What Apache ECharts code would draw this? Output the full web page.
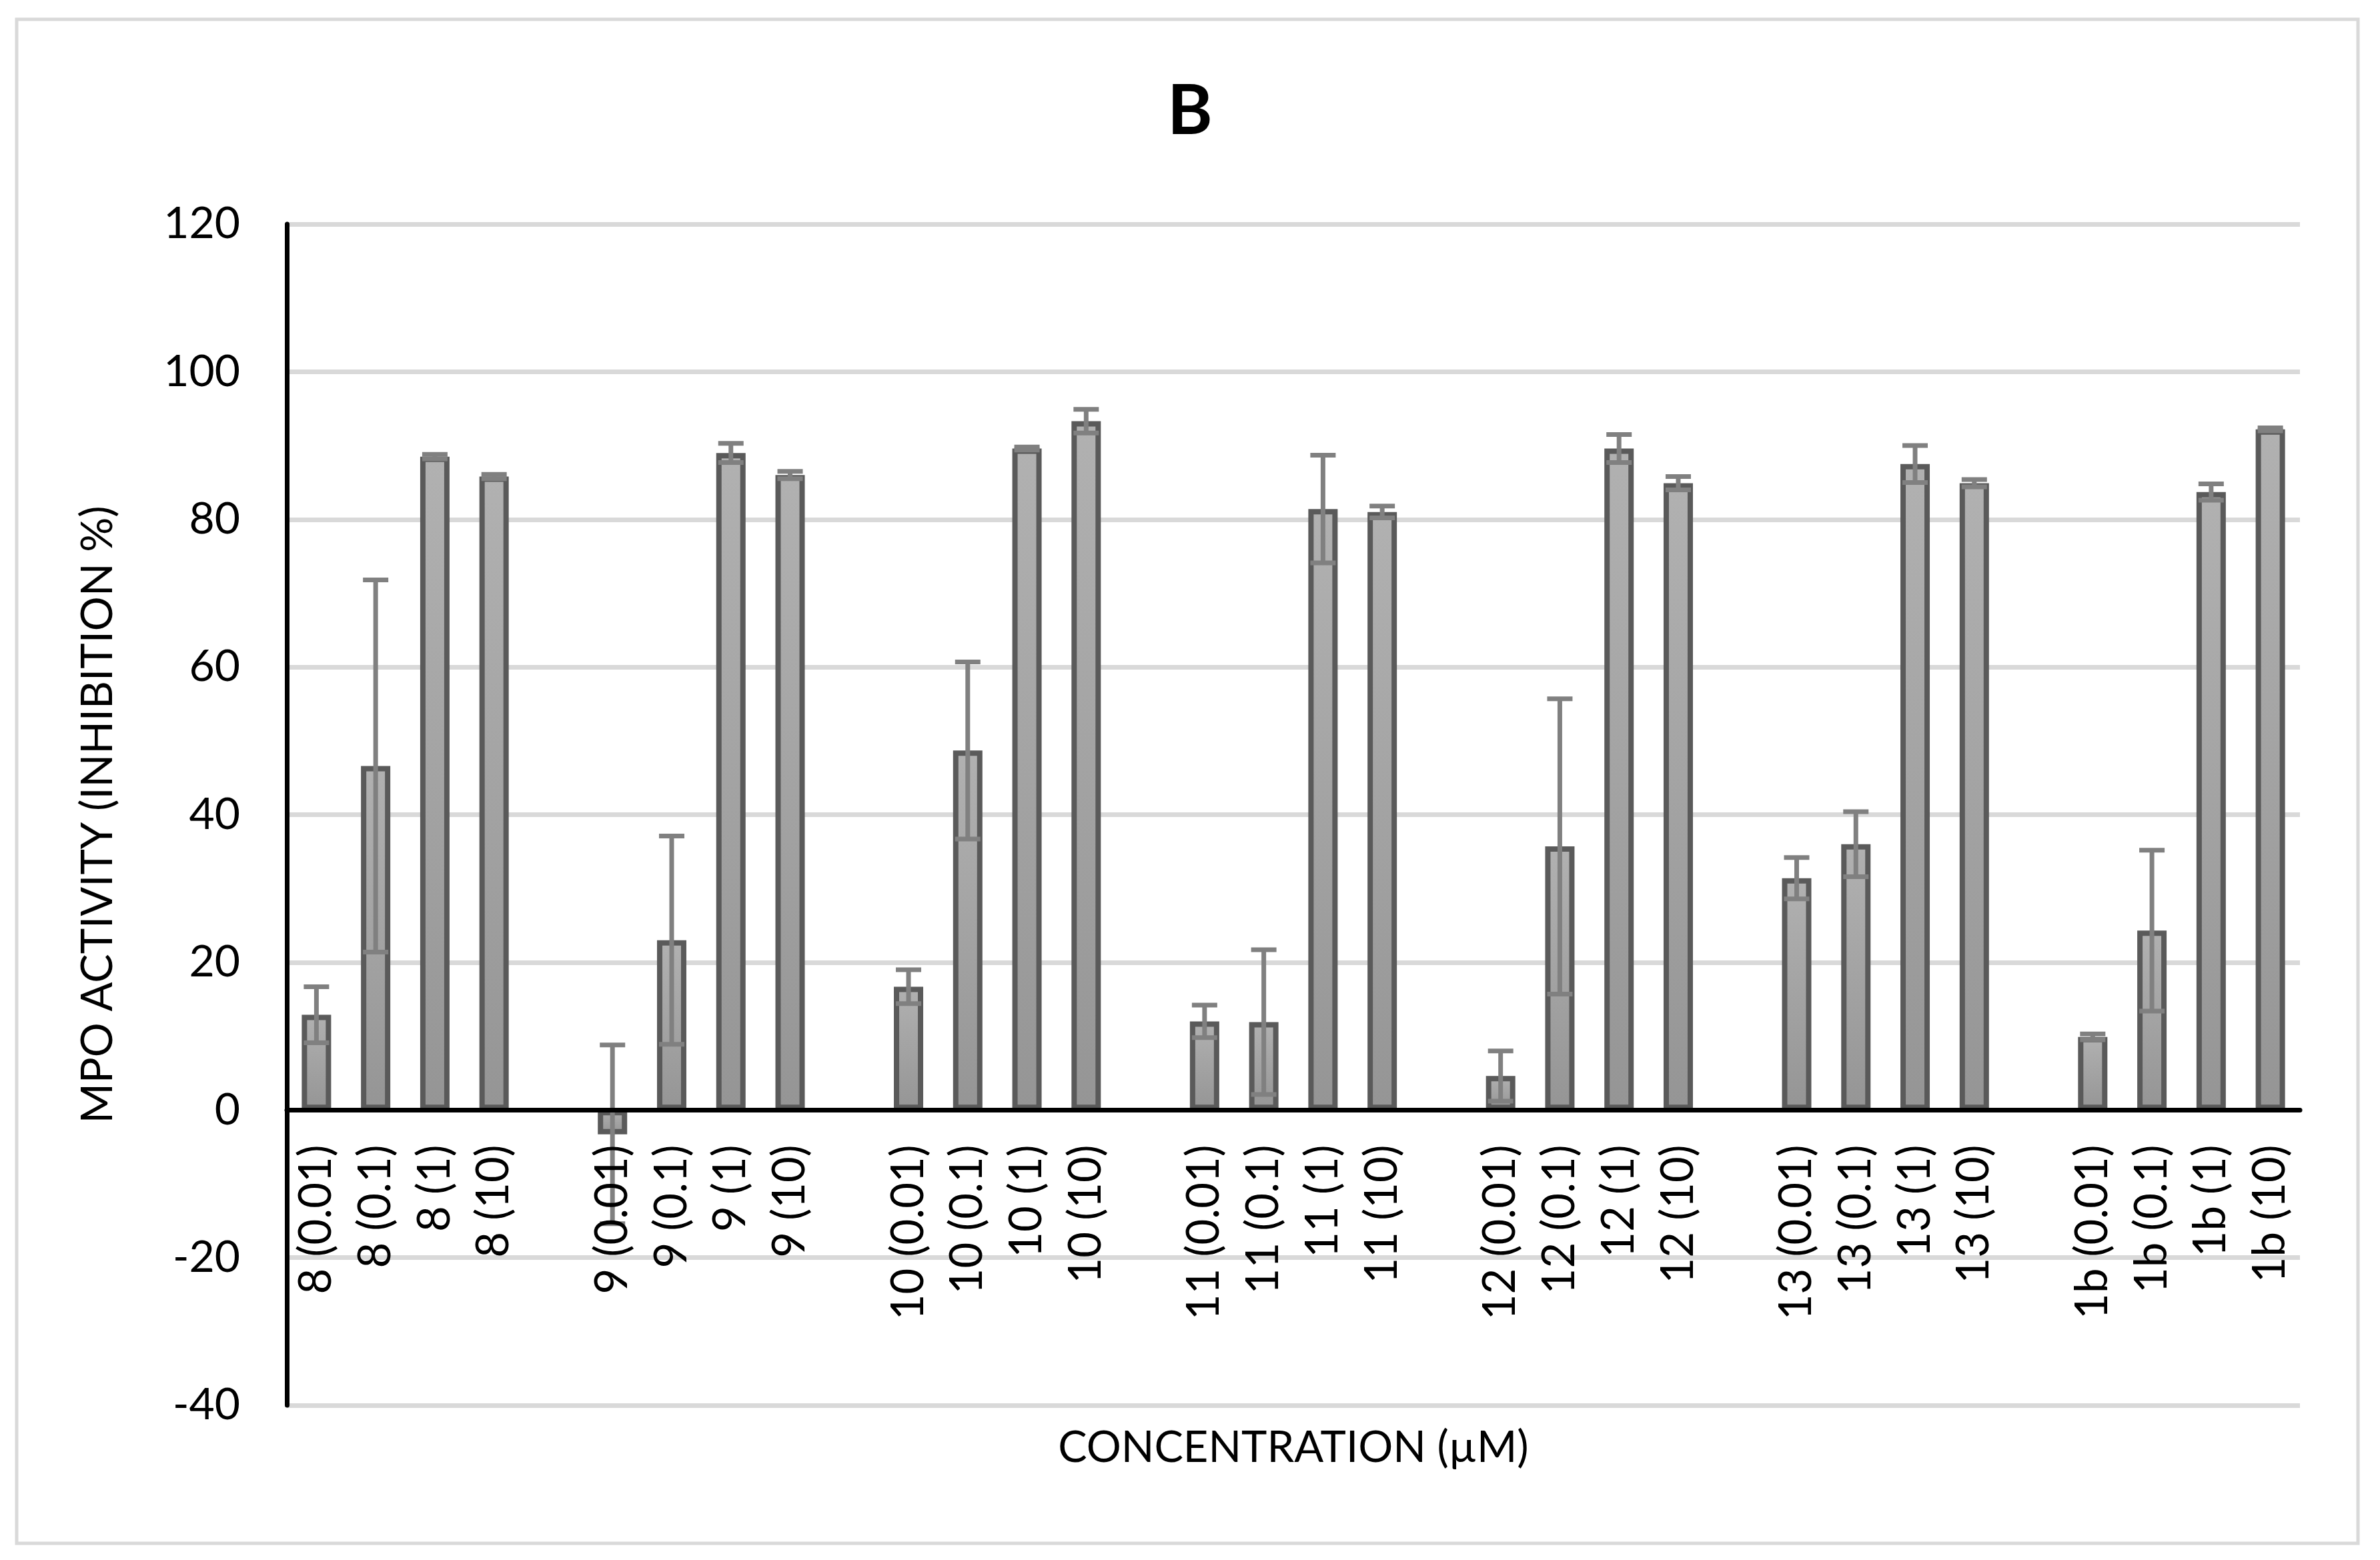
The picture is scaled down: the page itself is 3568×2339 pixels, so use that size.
<!DOCTYPE html>
<html>
<head>
<meta charset="utf-8">
<script src="https://cdn.jsdelivr.net/npm/echarts@6/dist/echarts.min.js"></script>
<style>
html,body{margin:0;padding:0;background:#fff;}
#chart{width:3568px;height:2339px;}
</style>
</head>
<body>
<div id="chart"></div>
<script>
const categories = [
  '8 (0.01)','8 (0.1)','8 (1)','8 (10)',' ',
  '9 (0.01)','9 (0.1)','9 (1)','9 (10)','  ',
  '10 (0.01)','10 (0.1)','10 (1)','10 (10)','   ',
  '11 (0.01)','11 (0.1)','11 (1)','11 (10)','    ',
  '12 (0.01)','12 (0.1)','12 (1)','12 (10)','     ',
  '13 (0.01)','13 (0.1)','13 (1)','13 (10)','      ',
  '1b (0.01)','1b (0.1)','1b (1)','1b (10)'
];
const inhibition = [
  12.9, 46.6, 88.5, 85.8, null,
  -3.3, 23.0, 89.0, 86.0, null,
  16.7, 48.7, 89.6, 93.3, null,
  12.0, 11.9, 81.4, 81.0, null,
  4.6, 35.7, 89.6, 84.9, null,
  31.4, 36.0, 87.5, 84.9, null,
  9.9, 24.3, 83.7, 92.2
];
const errorSD = [
  3.8, 25.2, 0.3, 0.3, null,
  12.1, 14.1, 1.3, 0.5, null,
  2.3, 12.0, 0.2, 1.6, null,
  2.2, 9.8, 7.3, 0.8, null,
  3.4, 20.0, 1.9, 0.9, null,
  2.8, 4.4, 2.5, 0.5, null,
  0.4, 10.9, 1.1, 0.2
];
const yTicks = {min: -40, max: 120, interval: 20};

const errorData = [];
inhibition.forEach(function (v, i) {
  if (v !== null) errorData.push([i, v, errorSD[i]]);
});

const FONT = 'Lato';
const GRID_TOP = 336, GRID_BOTTOM = 232, CHART_H = 2339;
const chart = echarts.init(document.getElementById('chart'));
// pixel distance from the bottom of the plot (min) up to the zero line
const plotH = CHART_H - GRID_TOP - GRID_BOTTOM;
const zeroOffset = plotH * (0 - yTicks.min) / (yTicks.max - yTicks.min);

chart.setOption({
  backgroundColor: '#ffffff',
  animation: false,
  title: {
    text: 'B',
    left: 'center',
    top: 116,
    padding: 0,
    textStyle: {fontFamily: FONT, fontWeight: 'bold', fontSize: 103, color: '#000'}
  },
  graphic: [{
    type: 'rect',
    shape: {x: 25, y: 29, width: 3510, height: 2285},
    style: {fill: 'none', stroke: '#d9d9d9', lineWidth: 5},
    silent: true
  }],
  grid: {left: 430, right: 120, top: GRID_TOP, bottom: GRID_BOTTOM, containLabel: false, outerBoundsMode: 'none'},
  xAxis: {
    type: 'category',
    data: categories,
    z: 5,
    offset: -zeroOffset,
    name: 'CONCENTRATION (µM)',
    nameLocation: 'middle',
    nameGap: 474,
    nameTextStyle: {fontFamily: FONT, fontSize: 65, color: '#000'},
    axisLine: {onZero: false, lineStyle: {color: '#000', width: 7}},
    axisTick: {show: false},
    axisLabel: {interval: 0, rotate: 90, margin: 52, fontFamily: FONT, fontSize: 67, color: '#000'},
    splitLine: {show: false}
  },
  yAxis: {
    type: 'value',
    min: yTicks.min,
    max: yTicks.max,
    interval: yTicks.interval,
    name: 'MPO ACTIVITY (INHIBITION %)',
    nameLocation: 'middle',
    nameGap: 250,
    nameRotate: 90,
    nameTextStyle: {fontFamily: FONT, fontSize: 65, color: '#000'},
    axisLine: {show: true, lineStyle: {color: '#000', width: 7}},
    axisTick: {show: false},
    axisLabel: {margin: 70, fontFamily: FONT, fontSize: 66, color: '#000'},
    splitLine: {show: true, lineStyle: {color: '#d9d9d9', width: 7}}
  },
  series: [{
    type: 'bar',
    data: inhibition,
    barWidth: 44,
    itemStyle: {
      color: new echarts.graphic.LinearGradient(0, 0, 0, 1, [
        {offset: 0, color: '#b1b1b1'},
        {offset: 1, color: '#959595'}
      ]),
      borderColor: '#5a5a5a',
      borderWidth: 8
    },
    z: 2
  }, {
    type: 'custom',
    data: errorData,
    z: 4,
    renderItem: function (params, api) {
      const x = api.value(0), v = api.value(1), sd = api.value(2);
      const top = api.coord([x, v + sd]);
      const bot = api.coord([x, v - sd]);
      const half = 19;
      const st = {stroke: '#808080', lineWidth: 7};
      return {
        type: 'group',
        children: [
          {type: 'line', shape: {x1: top[0], y1: top[1], x2: bot[0], y2: bot[1]}, style: st},
          {type: 'line', shape: {x1: top[0] - half, y1: top[1], x2: top[0] + half, y2: top[1]}, style: st},
          {type: 'line', shape: {x1: bot[0] - half, y1: bot[1], x2: bot[0] + half, y2: bot[1]}, style: st}
        ]
      };
    }
  }]
});
</script>
</body>
</html>
